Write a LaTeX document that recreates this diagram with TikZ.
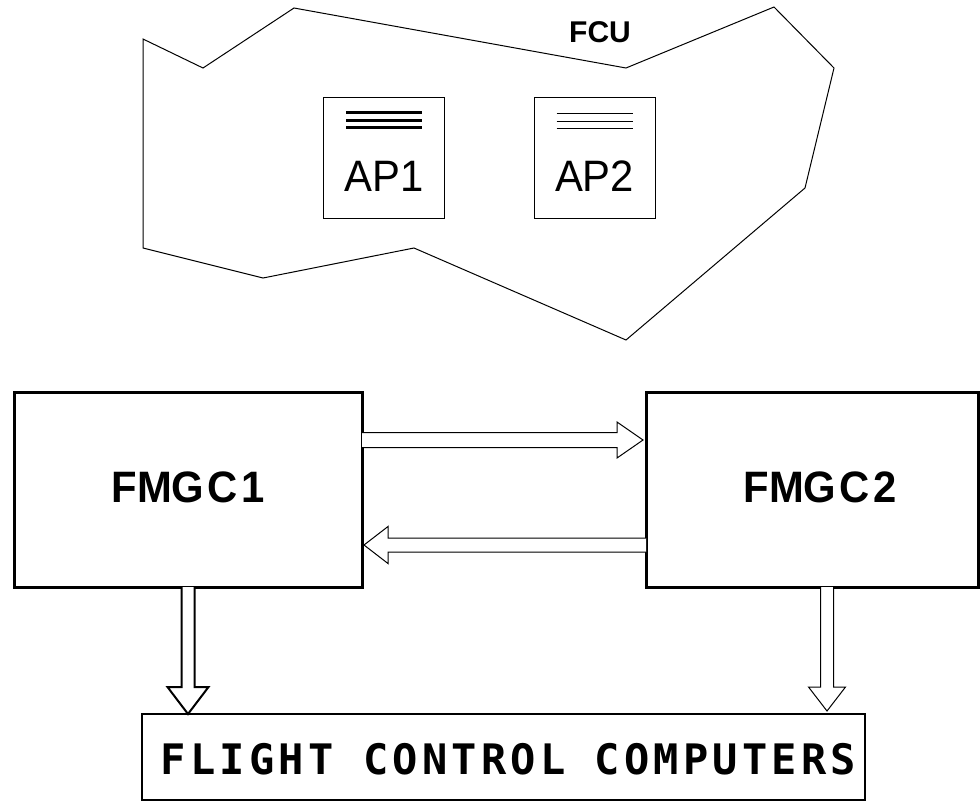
\documentclass[tikz,border=0pt]{standalone}
\usepackage{fontspec}
\setmainfont{Liberation Sans}
\newfontfamily\fccfont{DejaVu Sans Mono Bold}[LetterSpace=10]
\usetikzlibrary{calc}
\begin{document}
\begin{tikzpicture}[x=1pt,y=-1pt,
  thinline/.style={line width=1pt},
  bigbox/.style={draw,line width=3pt,rectangle,inner sep=0pt,outer sep=0pt},
  apbox/.style={draw,line width=1pt,rectangle,inner sep=0pt,outer sep=0pt,minimum width=121pt,minimum height=121pt},
  aptext/.style={inner sep=0pt,font=\fontsize{44}{44}\selectfont,xscale=0.95},
  fmgctext/.style={inner sep=0pt,font=\fontsize{44}{44}\selectfont\bfseries,xscale=0.95},
  hollow/.style={draw,line join=miter,fill=white}]
\useasboundingbox (0,0) rectangle (980,804);

% FCU outline
\draw[thinline,line join=miter] (143,39) -- (203,68) -- (294,8) -- (626,68) -- (774,7) -- (834,68)
  -- (805,188) -- (626,340) -- (414,248) -- (263,278) -- (143,248) -- cycle;
\node[inner sep=0pt,font=\fontsize{30}{30}\selectfont\bfseries] (fcu) at (600,32) {FCU};

% AP boxes
\node[apbox] (ap1) at (383.5,157.5) {};
\node[aptext] (ap1t) at ($(ap1.center)+(0.5,18.5)$) {AP1};
\foreach \dy in {-45,-37.5,-30}
  \draw[line width=3pt] ($(ap1.center)+(-37.5,\dy)$) -- ($(ap1.center)+(38.5,\dy)$);

\node[apbox] (ap2) at (594.5,157.5) {};
\node[aptext] (ap2t) at ($(ap2.center)+(0,18.5)$) {AP2};
\foreach \dy in {-44.5,-36.5,-29.5}
  \draw[thinline] ($(ap2.center)+(-38,\dy)$) -- ($(ap2.center)+(38,\dy)$);

% FMGC boxes
\node[bigbox,minimum width=348pt,minimum height=195pt] (f1) at (188,489.5) {};
\node[fmgctext] (f1t) at ($(f1.center)+(0,-2)$) {FMG\kern3pt C\kern4pt 1};
\node[bigbox,minimum width=332pt,minimum height=195pt] (f2) at (812,489.5) {};
\node[fmgctext] (f2t) at ($(f2.center)+(8,-2)$) {FMG\kern3pt C\kern4pt 2};

% Flight control computers
\node[bigbox,line width=2.5pt,minimum width=723pt,minimum height=86pt] (fcc) at (503.5,757) {};
\node[inner sep=0pt,font=\fccfont\fontsize{42}{42}\selectfont] (fcct) at ($(fcc.center)+(5,2)$) {FLIGHT CONTROL COMPUTERS};

% FMGC1 -> FMGC2
\coordinate (r1s) at ($(f1.east)+(0,-49.5)$);
\coordinate (r1t) at ($(f2.west)+(-3,-49.5)$);
\draw[hollow,thinline] (r1s) ++(0,-7.5) -- ($(r1t)+(-26,-7.5)$) -- ($(r1t)+(-26,-18)$) -- (r1t)
  -- ($(r1t)+(-26,18)$) -- ($(r1t)+(-26,7.5)$) -- ($(r1s)+(0,7.5)$);

% FMGC2 -> FMGC1
\coordinate (l1s) at ($(f2.west)+(0,55.5)$);
\coordinate (l1t) at ($(f1.east)+(2,55.5)$);
\draw[hollow,thinline] (l1s) ++(0,-7) -- ($(l1t)+(24,-7)$) -- ($(l1t)+(24,-18.5)$) -- (l1t)
  -- ($(l1t)+(24,18.5)$) -- ($(l1t)+(24,7)$) -- ($(l1s)+(0,7)$);

% FMGC1 -> FCC
\coordinate (d1s) at (f1.south);
\coordinate (d1t) at (fcc.north -| d1s);
\draw[hollow,line width=2pt] ($(d1s)+(-6.5,0)$) -- ($(d1t)+(-6.5,-27)$) -- ($(d1t)+(-20.5,-27)$) -- (d1t)
  -- ($(d1t)+(20.5,-27)$) -- ($(d1t)+(6.5,-27)$) -- ($(d1s)+(6.5,0)$);

% FMGC2 -> FCC
\coordinate (d2s) at ($(f2.south)+(15,0)$);
\coordinate (d2t) at ($(fcc.north -| d2s)+(0,-3)$);
\draw[hollow,thinline] ($(d2s)+(-6.5,0)$) -- ($(d2t)+(-6.5,-24)$) -- ($(d2t)+(-18.5,-24)$) -- (d2t)
  -- ($(d2t)+(18.5,-24)$) -- ($(d2t)+(6.5,-24)$) -- ($(d2s)+(6.5,0)$);
\end{tikzpicture}
\end{document}
